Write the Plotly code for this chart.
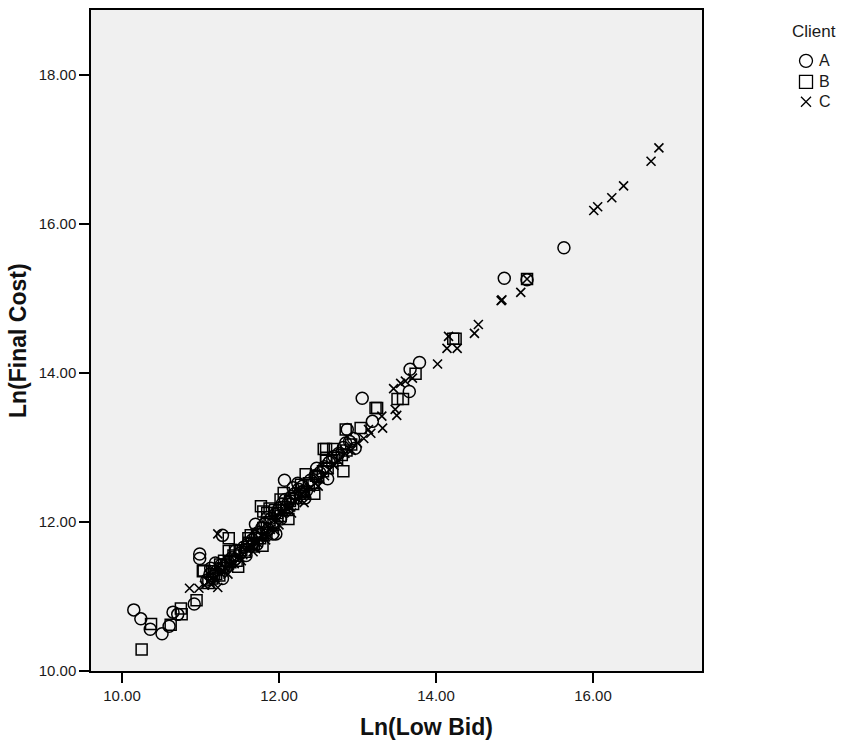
import plotly.graph_objects as go

# Ln(Low Bid) / Ln(Final Cost) pairs for each client
client_a_bid = [10.15, 10.24, 10.36, 10.51, 10.60, 10.65, 10.71, 10.92, 10.99, 10.99, 11.28,
                11.70, 11.96, 11.19, 11.13, 12.07, 12.24, 12.30, 13.06, 12.85, 13.19, 12.87,
                12.97, 13.79, 13.67, 13.66, 14.87, 15.16, 15.63,
                11.08, 11.12, 11.17, 11.22, 11.26, 11.30, 11.35, 11.40, 11.44, 11.50, 11.55,
                11.60, 11.66, 11.70, 11.74, 11.78, 11.82, 11.86, 11.90, 11.95, 12.00, 12.04,
                12.08, 12.12, 12.16, 12.20, 12.25, 12.30, 12.35, 12.40, 12.46, 12.52, 12.58,
                12.64, 12.70, 12.76, 12.82, 12.90, 12.95,
                11.45, 11.58, 11.72, 11.85, 12.02, 12.18, 12.33, 12.48, 12.62, 11.28, 11.92]
client_a_cost = [10.82, 10.70, 10.56, 10.50, 10.60, 10.79, 10.76, 10.90, 11.57, 11.51, 11.82,
                 11.97, 11.84, 11.45, 11.38, 12.56, 12.52, 12.41, 13.66, 13.06, 13.35, 13.24,
                 12.99, 14.14, 14.05, 13.75, 15.27, 15.25, 15.68,
                 11.22, 11.30, 11.27, 11.36, 11.42, 11.40, 11.47, 11.52, 11.50, 11.58, 11.66,
                 11.70, 11.76, 11.80, 11.86, 11.92, 11.98, 11.90, 12.05, 12.10, 12.18, 12.24,
                 12.30, 12.26, 12.34, 12.38, 12.44, 12.48, 12.42, 12.56, 12.62, 12.66, 12.74,
                 12.80, 12.88, 12.92, 13.00, 13.08, 13.12,
                 11.62, 11.55, 11.70, 12.06, 12.04, 12.46, 12.32, 12.72, 12.58, 11.24, 11.84]

client_b_bid = [10.25, 10.37, 10.62, 10.75, 10.76, 10.95, 11.04, 11.36, 11.36, 11.44, 11.61,
                11.66, 11.77, 11.80, 11.88, 11.03, 11.25, 12.06, 12.34, 12.47, 12.57, 12.60,
                12.85, 13.04, 12.82, 12.60, 12.69, 13.23, 13.25, 13.51, 13.58, 13.74, 14.22,
                14.25, 15.16,
                11.10, 11.15, 11.20, 11.24, 11.28, 11.33, 11.38, 11.42, 11.46, 11.52, 11.57,
                11.62, 11.68, 11.72, 11.76, 11.80, 11.84, 11.88, 11.93, 11.98, 12.02, 12.06,
                12.10, 12.14, 12.18, 12.22, 12.27, 12.32, 12.38, 12.44, 12.50, 12.56, 12.62,
                12.68, 12.74, 12.80, 12.86, 12.92,
                11.30, 11.48, 11.64, 11.79, 11.95, 12.12, 12.28, 12.45, 12.60, 11.15, 11.85,
                12.02]
client_b_cost = [10.29, 10.63, 10.62, 10.84, 10.76, 10.95, 11.35, 11.78, 11.61, 11.61, 11.78,
                 11.67, 12.21, 12.14, 12.18, 11.34, 11.43, 12.39, 12.64, 12.62, 12.98, 12.86,
                 13.24, 13.26, 12.68, 12.98, 12.98, 13.53, 13.53, 13.65, 13.65, 13.99, 14.46,
                 14.46, 15.26,
                 11.18, 11.24, 11.30, 11.28, 11.38, 11.43, 11.46, 11.55, 11.48, 11.62, 11.60,
                 11.72, 11.70, 11.84, 11.78, 11.92, 11.86, 12.00, 11.96, 12.12, 12.08, 12.20,
                 12.16, 12.28, 12.24, 12.32, 12.38, 12.40, 12.52, 12.50, 12.60, 12.68, 12.72,
                 12.82, 12.86, 12.90, 12.96, 13.04,
                 11.48, 11.40, 11.82, 11.68, 12.16, 12.04, 12.50, 12.38, 12.82, 11.34, 12.12,
                 12.30]

client_c_bid = [10.86, 10.98, 11.22, 13.17, 13.46, 13.55, 13.61, 13.70, 13.48, 13.50, 14.02,
                14.16, 14.14, 14.27, 14.54, 14.49, 13.31, 13.32, 14.83, 14.84, 15.08, 15.16,
                16.01, 16.06, 16.24, 16.39, 16.74, 16.84, 11.70, 11.83,
                11.05, 11.10, 11.14, 11.19, 11.25, 11.32, 11.37, 11.43, 11.48, 11.54, 11.59,
                11.64, 11.69, 11.73, 11.77, 11.81, 11.85, 11.89, 11.94, 11.99, 12.03, 12.07,
                12.11, 12.15, 12.20, 12.24, 12.29, 12.34, 12.40, 12.46, 12.52, 12.58, 12.64,
                12.70, 12.76, 12.84, 12.92, 13.00, 13.08, 13.14,
                11.35, 11.52, 11.67, 11.83, 12.00, 12.16, 12.32, 12.50, 11.22, 11.95]
client_c_cost = [11.11, 11.11, 11.84, 13.19, 13.79, 13.86, 13.89, 13.93, 13.51, 13.43, 14.12,
                 14.49, 14.33, 14.33, 14.65, 14.53, 13.42, 13.26, 14.97, 14.98, 15.08, 15.26,
                 16.18, 16.23, 16.35, 16.51, 16.84, 17.02, 11.64, 11.80,
                 11.15, 11.20, 11.16, 11.25, 11.32, 11.38, 11.42, 11.44, 11.54, 11.56, 11.64,
                 11.68, 11.74, 11.72, 11.82, 11.84, 11.94, 11.90, 12.02, 12.04, 12.12, 12.14,
                 12.22, 12.20, 12.28, 12.30, 12.36, 12.38, 12.46, 12.52, 12.58, 12.62, 12.70,
                 12.76, 12.82, 12.92, 12.96, 13.06, 13.12, 13.24,
                 11.30, 11.48, 11.60, 11.76, 11.96, 12.12, 12.26, 12.48, 11.12, 11.88]

client_labels = ["A", "B", "C"]
x_ticks = [10, 12, 14, 16]
y_ticks = [10, 12, 14, 16, 18]

FONT = "Liberation Sans, Arial, sans-serif"
INK = "#000000"
TEXT = "#1a1a1a"

# figure geometry (pixels)
W, H = 843, 747
ML, MR, MT, MB = 91, 141, 8, 76
PW, PH = W - ML - MR, H - MT - MB


def px_to_paper_x(px):
    return (px - ML) / PW


def px_to_paper_y(py):
    return 1 - (py - MT) / PH


fig = go.Figure()
fig.add_trace(go.Scatter(
    x=client_a_bid, y=client_a_cost, mode="markers", name=client_labels[0],
    marker=dict(symbol="circle-open", size=12, color=INK, line=dict(width=1.5, color=INK)),
))
fig.add_trace(go.Scatter(
    x=client_b_bid, y=client_b_cost, mode="markers", name=client_labels[1],
    marker=dict(symbol="square-open", size=11, color=INK, line=dict(width=1.5, color=INK)),
))
fig.add_trace(go.Scatter(
    x=client_c_bid, y=client_c_cost, mode="markers", name=client_labels[2],
    marker=dict(symbol="x-thin-open", size=9, color=INK, line=dict(width=1.6, color=INK)),
))

axis_common = dict(
    showgrid=False, zeroline=False, showline=True, linecolor=INK, linewidth=1.5,
    mirror=True, ticks="outside", ticklen=10, tickwidth=1.5, tickcolor=INK,
    tickformat=".2f", tickfont=dict(family=FONT, size=15, color=TEXT),
)

# key for the client symbols, drawn in the right margin
key_x = px_to_paper_x(806)
key_text_x = px_to_paper_x(817)
key_rows = [px_to_paper_y(59), px_to_paper_y(80), px_to_paper_y(100)]
key_style = dict(xref="paper", yref="paper", xsizemode="pixel", ysizemode="pixel",
                 line=dict(color=INK, width=1.3))
shapes = [
    dict(type="circle", xanchor=key_x, yanchor=key_rows[0], x0=-6.5, x1=6.5, y0=-6.5, y1=6.5,
         **key_style),
    dict(type="rect", xanchor=key_x, yanchor=key_rows[1], x0=-6.5, x1=6.5, y0=-6.5, y1=6.5,
         **key_style),
    dict(type="path", xanchor=key_x, yanchor=key_rows[2],
         path="M -5,-5 L 5,5 M -5,5 L 5,-5", **key_style),
]

annotations = [
    dict(text="<b>Ln(Low Bid)</b>", xref="paper", yref="paper",
         x=px_to_paper_x(426), y=px_to_paper_y(727),
         xanchor="center", yanchor="middle", showarrow=False,
         font=dict(family=FONT, size=23, color="#111111")),
    dict(text="<b>Ln(Final Cost)</b>", xref="paper", yref="paper",
         x=px_to_paper_x(18), y=px_to_paper_y(340),
         xanchor="center", yanchor="middle", showarrow=False, textangle=-90,
         font=dict(family=FONT, size=23, color="#111111")),
    dict(text="Client", xref="paper", yref="paper",
         x=px_to_paper_x(814), y=px_to_paper_y(30),
         xanchor="center", yanchor="middle", showarrow=False,
         font=dict(family=FONT, size=17, color=TEXT)),
]
for label, row in zip(client_labels, key_rows):
    annotations.append(dict(
        text=label, xref="paper", yref="paper", x=key_text_x, y=row,
        xanchor="left", yanchor="middle", showarrow=False,
        font=dict(family=FONT, size=16, color=TEXT)))

fig.update_layout(
    width=W, height=H,
    margin=dict(l=ML, r=MR, t=MT, b=MB),
    paper_bgcolor="white", plot_bgcolor="#F0F0F0",
    font=dict(family=FONT, color=INK),
    xaxis=dict(range=[9.605, 17.389], tickvals=x_ticks, **axis_common),
    yaxis=dict(range=[10.0, 18.87], tickvals=y_ticks, **axis_common),
    showlegend=False,
    shapes=shapes,
    annotations=annotations,
)

fig.write_html("out.html")
